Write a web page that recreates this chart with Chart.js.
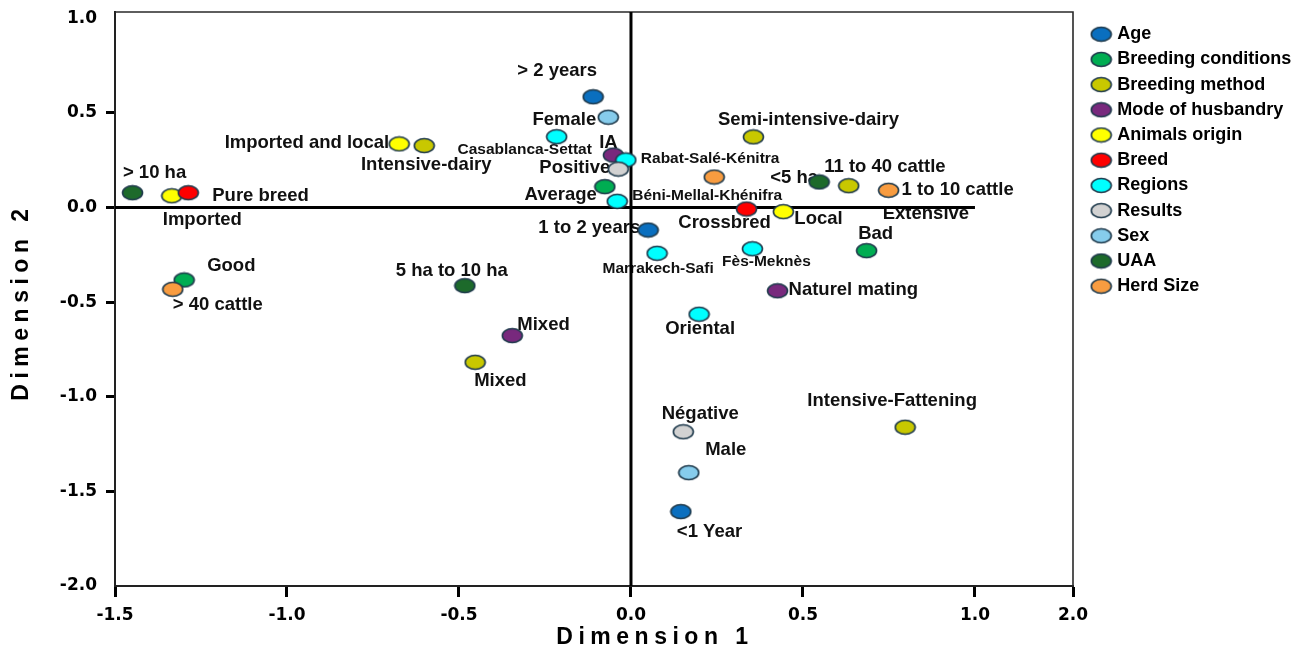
<!DOCTYPE html>
<html>
<head>
<meta charset="utf-8">
<script src="https://cdn.jsdelivr.net/npm/chart.js@4.4.1/dist/chart.umd.min.js"></script>
<style>
  html, body { margin: 0; padding: 0; background: #ffffff; }
  #wrap { width: 1304px; height: 654px; }
</style>
</head>
<body>
<div id="wrap"><canvas id="chart" width="1304" height="654"></canvas></div>
<script>
// ---------------- DATA ----------------
const categories = ['Age', 'Breeding conditions', 'Breeding method', 'Mode of husbandry',
  'Animals origin', 'Breed', 'Regions', 'Results', 'Sex', 'UAA', 'Herd Size'];

const ageNames = ['> 2 years', '1 to 2 years', '<1 Year'];
const ageDim1 = [-0.110, 0.050, 0.145];
const ageDim2 = [0.585, -0.119, -1.607];

const conditionNames = ['Good', 'Average', 'Bad'];
const conditionDim1 = [-1.299, -0.076, 0.685];
const conditionDim2 = [-0.383, 0.110, -0.228];

const methodNames = ['Intensive-dairy', 'Semi-intensive-dairy', 'Mixed', 'Intensive-Fattening', 'Extensive'];
const methodDim1 = [-0.601, 0.356, -0.453, 0.797, 0.633];
const methodDim2 = [0.327, 0.373, -0.818, -1.161, 0.115];

const husbandryNames = ['IA', 'Mixed', 'Naturel mating'];
const husbandryDim1 = [-0.051, -0.345, 0.426];
const husbandryDim2 = [0.277, -0.677, -0.440];

const originNames = ['Imported and local', 'Imported', 'Local'];
const originDim1 = [-0.674, -1.335, 0.443];
const originDim2 = [0.336, 0.062, -0.022];

const breedNames = ['Pure breed', 'Crossbred'];
const breedDim1 = [-1.287, 0.336];
const breedDim2 = [0.078, -0.008];

const regionNames = ['Casablanca-Settat', 'Rabat-Salé-Kénitra', 'Béni-Mellal-Khénifra', 'Marrakech-Safi', 'Fès-Meknès', 'Oriental'];
const regionDim1 = [-0.216, -0.015, -0.040, 0.076, 0.353, 0.198];
const regionDim2 = [0.374, 0.251, 0.033, -0.242, -0.218, -0.564];

const resultNames = ['Positive', 'Négative'];
const resultDim1 = [-0.037, 0.152];
const resultDim2 = [0.203, -1.185];

const sexNames = ['Female', 'Male'];
const sexDim1 = [-0.066, 0.168];
const sexDim2 = [0.477, -1.401];

const uaaNames = ['> 10 ha', '5 ha to 10 ha', '<5 ha'];
const uaaDim1 = [-1.449, -0.483, 0.547];
const uaaDim2 = [0.078, -0.413, 0.135];

const herdNames = ['> 40 cattle', '11 to 40 cattle', '1 to 10 cattle'];
const herdDim1 = [-1.332, 0.242, 0.749];
const herdDim2 = [-0.432, 0.161, 0.091];

const xTickValues = [-1.5, -1.0, -0.5, 0.0, 0.5, 1.0, 1.285];
const xTickLabels = ['-1.5', '-1.0', '-0.5', '0.0', '0.5', '1.0', '2.0'];
const yTickValues = [-2.0, -1.5, -1.0, -0.5, 0.0, 0.5, 1.0];
const yTickLabels = ['-2.0', '-1.5', '-1.0', '-0.5', '0.0', '0.5', '1.0'];
const xTitle = 'Dimension 1';
const yTitle = 'Dimension 2';

// ---------------- STYLE / LAYOUT ----------------
const categoryColors = ['#0A6FBF', '#00AD52', '#C8C800', '#78297D', '#FFFF00', '#FF0000',
  '#00FFFF', '#D2D2D2', '#86CCEC', '#1D6A2B', '#F89C40'];
const markerBorder = '#1F3A4C';

// label placement: [align, dx, dy] in pixels relative to the point
const agePos = [['c', -36, -26], ['r', -8, -2], ['l', -4, 20]];
const conditionPos = [['l', 23, -14], ['r', -8, 8], ['c', 9, -17]];
const methodPos = [['c', 2, 19], ['c', 55, -17], ['l', -1, 19], ['c', -13, -26], ['l', 34, 28]];
const husbandryPos = [['c', -5, -12], ['l', 5, -11], ['l', 11, -1]];
const originPos = [['r', -10, -1], ['l', -9, 24], ['l', 11, 7]];
const breedPos = [['l', 24, 3], ['c', -22, 14]];
const regionPos = [['c', -32, 13], ['l', 15, -1], ['l', 15, -6], ['c', 1, 15], ['c', 14, 13], ['c', 1, 15]];
const resultPos = [['r', -8, -1], ['c', 17, -18]];
const sexPos = [['r', -12, 3], ['c', 37, -23]];
const uaaPos = [['c', 22, -20], ['c', -13, -15], ['r', -1, -4]];
const herdPos = [['l', 0, 16], ['l', 110, -10], ['l', 13, 0]];
const smallLabels = ['Casablanca-Settat', 'Rabat-Salé-Kénitra', 'Béni-Mellal-Khénifra', 'Marrakech-Safi', 'Fès-Meknès'];

const groups = [
  [ageNames, ageDim1, ageDim2, agePos],
  [conditionNames, conditionDim1, conditionDim2, conditionPos],
  [methodNames, methodDim1, methodDim2, methodPos],
  [husbandryNames, husbandryDim1, husbandryDim2, husbandryPos],
  [originNames, originDim1, originDim2, originPos],
  [breedNames, breedDim1, breedDim2, breedPos],
  [regionNames, regionDim1, regionDim2, regionPos],
  [resultNames, resultDim1, resultDim2, resultPos],
  [sexNames, sexDim1, sexDim2, sexPos],
  [uaaNames, uaaDim1, uaaDim2, uaaPos],
  [herdNames, herdDim1, herdDim2, herdPos]
];

const FONT = '"Liberation Sans", Arial, sans-serif';
const TICK_FONT = '"DejaVu Sans", sans-serif';
Chart.defaults.font.family = FONT;
Chart.defaults.color = '#000';

function makeMarker(color) {
  const c = document.createElement('canvas');
  c.width = 23; c.height = 17;
  const g = c.getContext('2d');
  g.beginPath();
  g.ellipse(11.5, 8.5, 10, 7, 0, 0, Math.PI * 2);
  g.fillStyle = color;
  g.fill();
  g.lineWidth = 1.6;
  g.strokeStyle = markerBorder;
  g.stroke();
  return c;
}

const N = categories.length;
const datasets = groups.map((g, i) => ({
  label: categories[i],
  data: g[1].map((x, j) => ({ x: x, y: g[2][j] })),
  pointStyle: makeMarker(categoryColors[i]),
  backgroundColor: categoryColors[i],
  borderColor: markerBorder,
  pointRadius: 9,
  order: N - i
}));

// point labels + zero lines + frame (drawn under the points)
const underlayPlugin = {
  id: 'underlay',
  beforeDatasetsDraw(chart) {
    const ctx = chart.ctx;
    const ca = chart.chartArea;
    const xs = chart.scales.x, ys = chart.scales.y;
    ctx.save();
    ctx.textBaseline = 'middle';
    ctx.fillStyle = '#111';
    groups.forEach((g, i) => {
      const meta = chart.getDatasetMeta(i);
      meta.data.forEach((el, j) => {
        const name = g[0][j];
        const [a, dx, dy] = g[3][j];
        const size = smallLabels.includes(name) ? 15.5 : 18.5;
        ctx.font = 'bold ' + size + 'px ' + FONT;
        ctx.textAlign = a === 'l' ? 'left' : (a === 'r' ? 'right' : 'center');
        ctx.fillText(name, el.x + dx, el.y + dy);
      });
    });
    // frame top / right
    ctx.strokeStyle = '#2a2a2a';
    ctx.lineWidth = 1.6;
    ctx.beginPath();
    ctx.moveTo(ca.left, ca.top);
    ctx.lineTo(ca.right, ca.top);
    ctx.lineTo(ca.right, ca.bottom);
    ctx.stroke();
    // zero lines
    const x0 = xs.getPixelForValue(0);
    const y0 = ys.getPixelForValue(0);
    ctx.strokeStyle = '#000';
    ctx.lineWidth = 3;
    ctx.beginPath();
    ctx.moveTo(x0, ca.top);
    ctx.lineTo(x0, ca.bottom);
    ctx.moveTo(ca.left, y0);
    ctx.lineTo(xs.getPixelForValue(1.0), y0);
    ctx.stroke();
    ctx.restore();
  }
};

const titlePlugin = {
  id: 'axisTitles',
  afterDraw(chart) {
    const ctx = chart.ctx;
    const ca = chart.chartArea;
    ctx.save();
    ctx.font = 'bold 23px ' + FONT;
    ctx.fillStyle = '#000';
    ctx.letterSpacing = '5.5px';
    ctx.textAlign = 'center';
    ctx.textBaseline = 'middle';
    ctx.fillText(xTitle, chart.width / 2 + 3, 638);
    ctx.translate(22, (ca.top + ca.bottom) / 2 + 3);
    ctx.rotate(-Math.PI / 2);
    ctx.fillText(yTitle, 0, 0);
    ctx.restore();
  }
};

const legendBoxWidth = 231;
const legendPlugin = {
  id: 'legendPlace',
  beforeLayout(chart) {
    const lg = chart.legend;
    if (lg && !lg._patchedFit) {
      const f = lg.fit;
      lg.fit = function () { f.call(this); this.width = legendBoxWidth; };
      lg._patchedFit = true;
    }
  },
  afterLayout(chart) {
    const lg = chart.legend;
    if (!lg) return;
    lg.left += 14; lg.right += 14;
    lg.top += 6; lg.bottom += 6;
  }
};

new Chart(document.getElementById('chart'), {
  type: 'scatter',
  data: { datasets: datasets },
  options: {
    responsive: false,
    animation: false,
    events: [],
    layout: { padding: { left: 0, top: 12, right: 0, bottom: 0 } },
    plugins: {
      tooltip: { enabled: false },
      legend: {
        position: 'right',
        align: 'start',
        labels: {
          usePointStyle: true,
          pointStyleWidth: 14,
          padding: 7.2,
          color: '#000',
          font: { size: 18, weight: 'bold', family: FONT },
          sort: (a, b) => a.datasetIndex - b.datasetIndex
        }
      }
    },
    scales: {
      x: {
        type: 'linear',
        min: -1.5,
        max: 1.285,
        afterBuildTicks: (s) => { s.ticks = xTickValues.map(v => ({ value: v })); },
        afterFit: (s) => { s.height = 68; s.paddingLeft = 0; s.paddingRight = 0; },
        ticks: {
          autoSkip: false,
          maxRotation: 0,
          padding: 8,
          color: '#000',
          font: { family: TICK_FONT, size: 17, weight: 'bold' },
          callback: (v, i) => xTickLabels[i]
        },
        grid: { drawOnChartArea: false, tickLength: 11, tickWidth: 3, tickColor: '#000' },
        border: { display: true, color: '#222', width: 2 }
      },
      y: {
        type: 'linear',
        min: -2,
        max: 1.033,
        afterBuildTicks: (s) => { s.ticks = yTickValues.map(v => ({ value: v })); },
        afterFit: (s) => { s.width = 115; s.paddingTop = 0; s.paddingBottom = 0; },
        ticks: {
          autoSkip: false,
          padding: 9,
          color: '#000',
          font: { family: TICK_FONT, size: 17, weight: 'bold' },
          callback: (v, i) => yTickLabels[i]
        },
        grid: {
          drawOnChartArea: false, tickLength: 9, tickWidth: 3,
          tickColor: (c) => (c.tick && (c.tick.value === 1 || c.tick.value === -2)) ? 'rgba(0,0,0,0)' : '#000'
        },
        border: { display: true, color: '#222', width: 2 }
      }
    }
  },
  plugins: [underlayPlugin, titlePlugin, legendPlugin]
});
</script>
</body>
</html>
